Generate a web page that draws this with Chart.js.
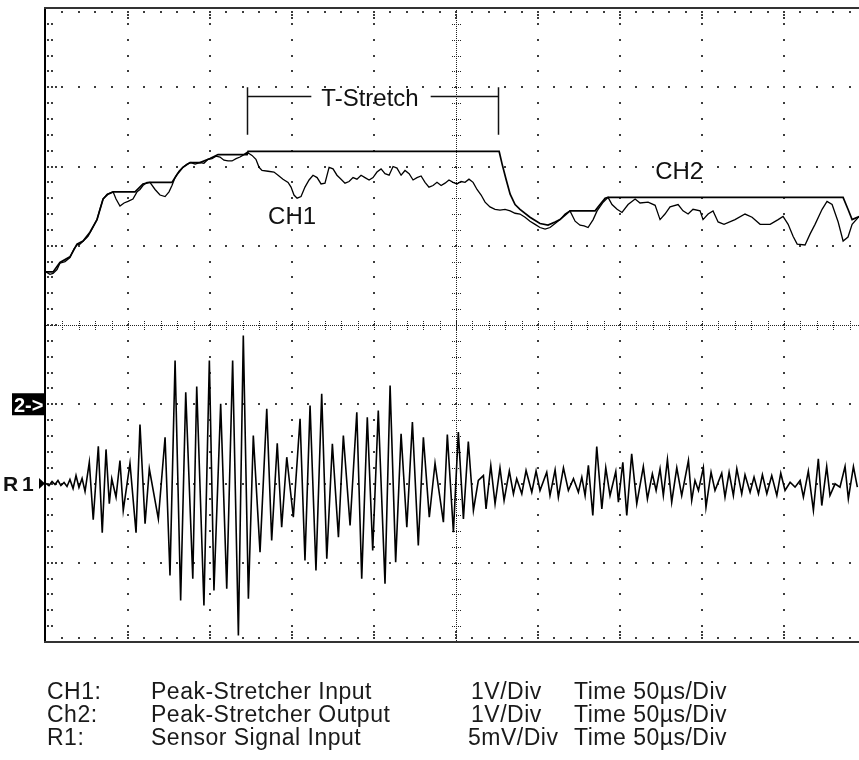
<!DOCTYPE html>
<html>
<head>
<meta charset="utf-8">
<script src="https://cdn.jsdelivr.net/npm/chart.js@4.4.1/dist/chart.umd.min.js"></script>
<style>
  body { margin: 0; background: #fff; }
  #wrap { position: relative; width: 859px; height: 760px; overflow: hidden; }
  #scope { position: absolute; left: 0; top: 0; }
  .row { position: absolute; left: 0; width: 859px; height: 23px; font: 23px "Liberation Sans", Arial, sans-serif; letter-spacing: 0.5px; line-height: 23px; color: #1a1a1a; white-space: nowrap; }
  .row span { position: absolute; top: 0; }
</style>
</head>
<body>
<div id="wrap">
  <canvas id="scope" width="859" height="760"></canvas>
  <div id="legend"></div>
</div>
<script>
// time axis: 50 us per division, screen shows 0 .. ~495.7 us (right edge cut off)
const timePerDiv = 50;
const xMaxUs = 495.7;

// CH1: peak-stretcher input (V, 1 V/div)
const ch1Time = [
  0, 2.4, 4.3, 6.7, 8.5, 11.6, 14.6, 17.1, 18.9, 20.7,
  23.2, 25.6, 28.0, 31.1, 32.9, 34.8, 37.2, 40.9, 42.7, 45.1,
  47.6, 50.0, 53.0, 55.5, 57.3, 59.1, 61.6, 63.4, 66.5, 69.5,
  72.6, 75.0, 76.8, 78.7, 81.1, 83.5, 86.0, 88.4, 90.9, 93.9,
  96.3, 98.8, 101.2, 103.7, 106.1, 108.5, 111.0, 113.4, 115.9, 118.3,
  120.7, 122.6, 125.6, 128.0, 129.9, 131.7, 135.4, 139.0, 141.5, 144.5,
  147.6, 149.4, 151.2, 153.1, 155.5, 157.9, 160.4, 162.8, 165.3, 167.7,
  170.1, 172.6, 175.0, 177.4, 179.9, 182.3, 184.8, 187.2, 189.6, 192.1,
  194.5, 197.0, 199.4, 201.8, 204.3, 206.7, 209.2, 211.6, 214.0, 216.5,
  218.9, 221.4, 223.8, 226.2, 228.7, 231.1, 233.5, 236.0, 238.4, 240.9,
  243.3, 245.7, 248.2, 250.6, 253.1, 255.5, 257.9, 260.4, 262.8, 265.3,
  267.7, 270.7, 273.8, 276.8, 279.9, 283.0, 286.0, 289.0, 292.1, 295.1,
  298.2, 301.2, 304.3, 307.3, 310.4, 313.4, 316.5, 319.5, 322.6, 325.6,
  328.1, 330.5, 333.6, 336.0, 339.7, 342.7, 345.1, 348.2, 351.2, 354.9,
  359.2, 362.2, 367.1, 371.4, 374.4, 377.4, 380.5, 385.4, 388.4, 391.5,
  394.5, 398.8, 400.6, 403.7, 406.7, 409.8, 413.4, 420.1, 426.2, 430.5,
  435.4, 441.5, 446.4, 449.4, 452.5, 455.5, 458.0, 462.8, 465.9, 468.9,
  473.2, 476.2, 479.3, 483.0, 486.0, 489.0, 491.5, 495.8
];
const ch1Volts = [
  1.67, 1.64, 1.65, 1.70, 1.78, 1.80, 1.85, 1.96, 2.01, 2.02,
  2.07, 2.12, 2.21, 2.33, 2.46, 2.59, 2.65, 2.68, 2.59, 2.50,
  2.54, 2.56, 2.59, 2.68, 2.71, 2.76, 2.80, 2.80, 2.71, 2.64,
  2.62, 2.68, 2.76, 2.86, 2.94, 2.99, 3.03, 3.05, 3.03, 3.05,
  3.04, 3.09, 3.10, 3.13, 3.12, 3.08, 3.07, 3.07, 3.10, 3.12,
  3.15, 3.18, 3.14, 3.09, 2.99, 2.95, 2.94, 2.93, 2.89, 2.84,
  2.80, 2.74, 2.64, 2.60, 2.62, 2.74, 2.83, 2.89, 2.86, 2.78,
  2.79, 2.99, 2.97, 2.89, 2.84, 2.79, 2.81, 2.86, 2.84, 2.89,
  2.86, 2.83, 2.86, 2.93, 2.97, 2.91, 2.89, 3.00, 2.98, 2.89,
  2.95, 2.91, 2.83, 2.86, 2.88, 2.80, 2.74, 2.76, 2.80, 2.76,
  2.79, 2.83, 2.80, 2.78, 2.81, 2.80, 2.84, 2.80, 2.71, 2.64,
  2.55, 2.49, 2.46, 2.45, 2.46, 2.44, 2.41, 2.40, 2.36, 2.31,
  2.27, 2.23, 2.21, 2.23, 2.28, 2.33, 2.40, 2.44, 2.31, 2.26,
  2.25, 2.23, 2.33, 2.44, 2.55, 2.61, 2.52, 2.46, 2.42, 2.52,
  2.59, 2.54, 2.55, 2.51, 2.33, 2.40, 2.49, 2.52, 2.44, 2.40,
  2.46, 2.44, 2.33, 2.40, 2.44, 2.30, 2.27, 2.33, 2.40, 2.36,
  2.27, 2.27, 2.33, 2.37, 2.27, 2.12, 2.02, 2.01, 2.15, 2.27,
  2.46, 2.56, 2.52, 2.30, 2.06, 2.11, 2.27, 2.37
];

// CH2: peak-stretcher output (V, 1 V/div)
const ch2Time = [
  0, 4.3, 8.5, 14.6, 18.9, 22.6, 26.8, 31.1, 34.8, 37.8,
  40.9, 54.3, 59.1, 63.4, 76.8, 79.9, 83.5, 87.8, 93.9, 100.0,
  104.9, 122.6, 123.2, 276.3, 278.1, 280.5, 283.0, 286.0, 289.0, 295.1,
  301.2, 306.1, 310.4, 313.4, 319.5, 334.8, 337.8, 340.9, 342.7, 486.0,
  489.0, 491.5, 495.8
];
const ch2Volts = [
  1.67, 1.67, 1.79, 1.86, 2.02, 2.06, 2.17, 2.33, 2.59, 2.65,
  2.68, 2.68, 2.78, 2.80, 2.80, 2.90, 2.99, 3.05, 3.05, 3.10,
  3.15, 3.15, 3.19, 3.19, 3.03, 2.84, 2.65, 2.52, 2.46, 2.36,
  2.28, 2.26, 2.30, 2.33, 2.44, 2.44, 2.52, 2.60, 2.61, 2.61,
  2.46, 2.33, 2.37
];

// R1: sensor signal (mV, 5 mV/div), peaks of each half cycle
const r1Time = [
  0, 1.8, 3.7, 5.5, 7.3, 9.1, 11.0, 12.8, 14.6, 16.5, 18.3, 20.1, 22.0, 23.8,
  26.4, 28.8, 31.9, 34.3, 36.6, 38.6, 40.1, 42.7, 45.1, 47.1,
  51.2, 54.9, 57.3, 60.4, 63.0, 68.5, 72.6, 75.6, 78.7, 82.1,
  85.2, 89.5, 91.9, 96.3, 99.6, 102.4, 106.5, 110.2, 113.8, 117.3,
  120.3, 123.4, 126.4, 130.5, 134.6, 137.6, 141.0, 143.7, 146.8, 150.8,
  154.9, 157.9, 161.0, 164.6, 168.1, 171.2, 174.6, 178.3, 181.3, 185.4,
  189.5, 192.5, 195.9, 199.2, 202.6, 206.7, 209.8, 213.2, 216.5, 220.0,
  223.4, 227.0, 230.1, 233.7, 237.2, 242.3, 244.7, 248.4,
  251.4, 254.5, 257.5, 260.6, 263.6, 266.7, 268.3, 271.2, 273.8, 276.8,
  279.3, 282.5, 285.0, 287.0, 290.1, 292.7, 296.2, 298.8, 301.2, 305.3,
  307.3, 310.4, 312.4, 315.5, 318.5, 321.6, 324.6, 326.7, 328.7, 330.7,
  333.4, 335.8, 338.9, 341.3, 343.9, 347.4, 349.0, 351.7, 354.1, 357.1,
  360.2, 364.2, 366.7, 369.7, 372.0, 374.4, 376.4, 378.9, 381.5, 384.6,
  387.6, 391.7, 393.7, 395.7, 397.8, 400.8, 402.4, 405.5, 407.9, 412.0,
  414.0, 416.5, 419.1, 421.2, 424.2, 426.2, 429.3, 431.7, 434.4, 436.8,
  439.5, 442.5, 445.6, 448.0, 450.6, 453.7, 456.7, 459.8, 461.8, 464.8,
  467.9, 470.9, 473.0, 476.0, 478.0, 481.1, 484.1, 487.2, 489.2, 492.3,
  494.7
];
const r1mV = [
  0, -0.13, 0.13, -0.06, 0.19, -0.13, 0.06, -0.19, 0.25, -0.32, 0.5, -0.25, 0.32, -0.5,
  1.34, -2.29, 2.35, -3.11, 2.15, -1.28, 0.30, -0.86, 1.45, -1.70,
  1.28, -3.11, 3.72, -2.54, 0.93, -2.23, 2.92, -5.80, 7.76, -7.38,
  5.76, -6.01, 6.12, -7.70, 7.76, -6.75, 5.03, -6.64, 7.76, -9.59,
  9.34, -7.27, 3.03, -4.33, 4.71, -3.60, 2.54, -2.76, 1.66, -2.13,
  4.08, -4.86, 4.92, -5.49, 5.66, -4.75, 2.50, -3.39, 3.03, -2.65,
  4.50, -6.01, 4.18, -4.23, 4.61, -6.33, 6.18, -4.97, 3.14, -2.76,
  3.87, -3.91, 2.92, -2.13, 1.28, -2.44, 3.09, -3.07,
  3.24, -2.23, 2.65, -1.70, 0.19, 0.50, -1.60, 1.14, -1.28, 0.99,
  -1.07, 0.78, -0.65, 0.30, -0.65, 0.82, -0.55, 0.78, -0.44, 0.71,
  -0.76, 0.86, -0.86, 0.99, -0.44, 0.30, -0.55, 0.40, -0.76, 1.14,
  -2.02, 2.33, -1.60, 0.99, -0.76, 0.76, -1.18, 1.34, -2.02, 1.87,
  -1.28, 1.07, -0.97, 0.61, -0.44, 0.93, -0.76, 1.51, -1.18, 0.99,
  -0.76, 1.45, -1.07, 0.19, -0.44, 0.99, -1.50, 0.71, -0.44, 0.65,
  -0.86, 0.71, -0.76, 0.93, -0.65, 0.55, -0.55, 0.40, -0.65, 0.55,
  -0.65, 0.50, -0.76, 0.65, -0.44, 0.08, -0.23, 0.19, -0.86, 0.78,
  -1.70, 1.56, -1.39, 1.07, -0.76, -0.02, -0.23, 1.07, -0.97, 1.07,
  -0.23
];

// screen positions (in divisions from centre) of the channel ground markers
const chGroundDiv = -1;   // "2->" marker
const r1GroundDiv = -2;   // "R1" marker
const voltsPerDiv = 1;
const mVPerDiv = 5;

// T-Stretch bracket, us
const tStretchUs = [122.4, 275.6];

const legendRows = [
  ['CH1:', 'Peak-Stretcher Input', '1V/Div', 'Time 50µs/Div'],
  ['Ch2:', 'Peak-Stretcher Output', '1V/Div', 'Time 50µs/Div'],
  ['R1:', 'Sensor Signal Input', '5mV/Div', 'Time 50µs/Div']
];

const toPoints = (ts, vs, f) => ts.map((t, i) => ({ x: t, y: f(vs[i]) }));

const FONT = '"Liberation Sans", Arial, sans-serif';

const graticule = {
  id: 'graticule',
  beforeDatasetsDraw(chart) {
    const { ctx, chartArea: a, scales: { x, y } } = chart;
    const X = us => x.getPixelForValue(us);
    const Y = d => y.getPixelForValue(d);
    const dot = (px, py) => ctx.fillRect(Math.round(px) - 1, Math.round(py) - 1, 2, 2);
    ctx.save();
    ctx.fillStyle = '#3c3c3c';
    // dotted division lines (dots at every minor step)
    for (let i = 1; i < 10; i++) {
      if (i === 5) continue;
      for (let j = 1; j < 40; j++) dot(X(i * timePerDiv), Y(-4 + j * 0.2));
    }
    for (let k = -3; k <= 3; k++) {
      if (k === 0) continue;
      for (let j = 1; j < 50; j++) dot(X(j * timePerDiv / 5), Y(k));
    }
    // edge ticks
    for (let j = 1; j < 40; j++) {
      const py = Y(-4 + j * 0.2);
      const major = j % 5 === 0;
      [2, 6].concat(major ? [10] : []).forEach(d => dot(a.left + d, py));
    }
    for (let j = 1; j < 50; j++) {
      const px = X(j * timePerDiv / 5);
      const major = j % 5 === 0;
      [4].concat(major ? [7, 10] : []).forEach(d => { dot(px, a.top + d); dot(px, a.bottom - d); });
    }
    // centre cross: fine dotted with small ticks
    ctx.fillStyle = '#222';
    const cx = Math.round(X(5 * timePerDiv)), cy = Math.round(Y(0));
    for (let py = a.top; py < a.bottom; py += 2) ctx.fillRect(cx, py, 1, 1);
    for (let px = a.left; px < a.right; px += 2) ctx.fillRect(px, cy, 1, 1);
    for (let j = 1; j < 40; j++) {
      const py = Math.round(Y(-4 + j * 0.2));
      for (let d = -4; d <= 4; d += 2) ctx.fillRect(cx + d, py, 1, 1);
    }
    for (let j = 1; j < 50; j++) {
      const px = Math.round(X(j * timePerDiv / 5));
      for (let d = -4; d <= 4; d += 2) ctx.fillRect(px, cy + d, 1, 1);
    }
    // frame
    ctx.fillStyle = '#000';
    ctx.fillRect(a.left - 2, a.top - 1, 2, a.bottom - a.top + 2);
    ctx.fillStyle = '#333';
    ctx.fillRect(a.left - 2, a.top - 1, a.right - a.left + 2, 2);
    ctx.fillRect(a.left - 2, a.bottom - 1, a.right - a.left + 2, 2);
    ctx.restore();
  }
};

const annotations = {
  id: 'annotations',
  afterDraw(chart) {
    const { ctx, chartArea: a, scales: { x, y } } = chart;
    ctx.save();
    ctx.fillStyle = '#111';
    ctx.strokeStyle = '#111';
    ctx.lineWidth = 1.5;
    ctx.font = '24px ' + FONT;
    // T-Stretch bracket
    const x0 = Math.round(x.getPixelForValue(tStretchUs[0])) + 0.5;
    const x1 = Math.round(x.getPixelForValue(tStretchUs[1])) + 0.5;
    const yT = y.getPixelForValue(3.0), yB = y.getPixelForValue(2.4), yM = Math.round(y.getPixelForValue(2.89)) + 0.5;
    const label = 'T-Stretch';
    const w = ctx.measureText(label).width;
    const mid = (x0 + x1) / 2 - 3;
    ctx.beginPath();
    ctx.moveTo(x0, yT); ctx.lineTo(x0, yB);
    ctx.moveTo(x1, yT); ctx.lineTo(x1, yB);
    ctx.moveTo(x0, yM); ctx.lineTo(mid - w / 2 - 10, yM);
    ctx.moveTo(mid + w / 2 + 12, yM); ctx.lineTo(x1, yM);
    ctx.stroke();
    ctx.textBaseline = 'alphabetic';
    ctx.fillText(label, mid - w / 2, y.getPixelForValue(2.76));
    // channel labels
    ctx.fillText('CH1', x.getPixelForValue(135.4), y.getPixelForValue(1.27));
    ctx.fillText('CH2', x.getPixelForValue(371.4), y.getPixelForValue(1.84));
    // R1 marker
    const ry = y.getPixelForValue(r1GroundDiv);
    ctx.font = 'bold 21px ' + FONT;
    ctx.fillText('R', 3, ry + 7);
    ctx.fillText('1', 22, ry + 7);
    ctx.fillStyle = '#000';
    ctx.beginPath();
    ctx.moveTo(39, ry - 5.5); ctx.lineTo(39, ry + 5.5); ctx.lineTo(45, ry);
    ctx.closePath(); ctx.fill();
    // CH2 ground marker
    const gy = y.getPixelForValue(chGroundDiv);
    ctx.fillRect(12, gy - 11, a.left - 12, 22);
    ctx.fillStyle = '#fff';
    ctx.font = 'bold 20px ' + FONT;
    ctx.fillText('2->', 14, gy + 8);
    ctx.restore();
  }
};

new Chart(document.getElementById('scope'), {
  type: 'line',
  data: {
    datasets: [
      {
        label: 'CH1',
        data: toPoints(ch1Time, ch1Volts, v => v / voltsPerDiv + chGroundDiv),
        borderColor: '#000',
        borderWidth: 1.3
      },
      {
        label: 'CH2',
        data: toPoints(ch2Time, ch2Volts, v => v / voltsPerDiv + chGroundDiv),
        borderColor: '#000',
        borderWidth: 1.7
      },
      {
        label: 'R1',
        data: toPoints(r1Time, r1mV, v => v / mVPerDiv + r1GroundDiv),
        borderColor: '#000',
        borderWidth: 1.6
      }
    ]
  },
  options: {
    responsive: false,
    animation: false,
    events: [],
    devicePixelRatio: 1,
    layout: { padding: { left: 46, top: 8, right: 0, bottom: 118 } },
    elements: { point: { radius: 0 }, line: { tension: 0, fill: false } },
    plugins: { legend: { display: false }, tooltip: { enabled: false } },
    scales: {
      x: { type: 'linear', min: 0, max: xMaxUs, display: false },
      y: { type: 'linear', min: -4, max: 4, display: false }
    }
  },
  plugins: [graticule, annotations]
});

// text table under the screen
const cols = [47, 151, 471, 574];
const legend = document.getElementById('legend');
legendRows.forEach((row, r) => {
  const div = document.createElement('div');
  div.className = 'row';
  div.style.top = (680 + r * 23) + 'px';
  row.forEach((txt, c) => {
    const s = document.createElement('span');
    s.style.left = (c === 2 && txt.startsWith('5') ? cols[c] - 3 : cols[c]) + 'px';
    s.textContent = txt;
    div.appendChild(s);
  });
  legend.appendChild(div);
});
</script>
</body>
</html>
